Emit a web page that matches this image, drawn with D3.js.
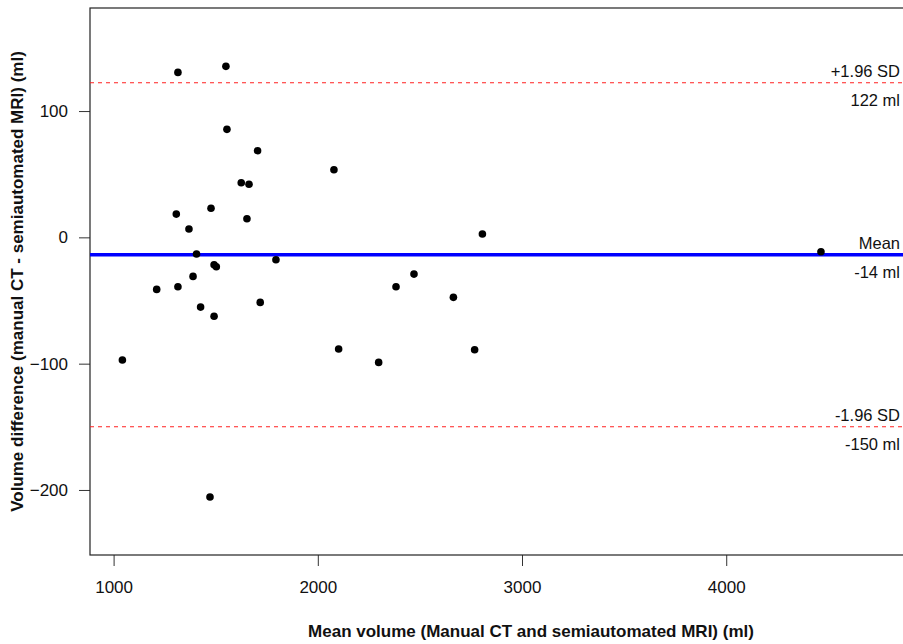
<!DOCTYPE html>
<html>
<head>
<meta charset="utf-8">
<script src="https://cdn.jsdelivr.net/npm/d3@7"></script>
<style>
  body { margin: 0; background: #fff; }
  svg { display: block; font-family: "Liberation Sans", Arial, Helvetica, sans-serif; }
</style>
</head>
<body>
<svg id="chart" width="903" height="644"></svg>
<script>
// mean volume (ml) and difference (ml) for each case
let meanVolume = [1315, 1550, 1555, 1705, 1625, 1663, 2079, 1477, 1307, 1653, 1369, 2806,
  1406, 1492, 1503, 1795, 1389, 1211, 1315, 1426, 1492, 1718, 1043, 2471, 2383, 2664,
  2102, 2298, 2768, 4464, 1472];
let volumeDiff = [130.6, 135.4, 85.5, 68.6, 43.2, 42.0, 53.5, 23.0, 18.4, 14.7, 6.6, 2.6,
  -13.2, -21.7, -23.3, -17.7, -30.9, -41.2, -39.1, -55.2, -62.5, -51.5, -97.1, -29.1, -39.1, -47.5,
  -88.4, -99.0, -89.0, -11.4, -205.6];

// Bland-Altman lines
let meanDiff = -13.8;
let limits = [122.4, -150.0];
let lineLabels = [
  { value: limits[0], above: "+1.96 SD", below: "122 ml" },
  { value: meanDiff, above: "Mean", below: "-14 ml" },
  { value: limits[1], above: "-1.96 SD", below: "-150 ml" }
];

let xTicks = [1000, 2000, 3000, 4000];
let yTicks = [-200, -100, 0, 100];

let svg = d3.select("#chart");
let plotLeft = 90, plotRight = 972, plotTop = 8, plotBottom = 555;

let x = d3.scaleLinear().domain([884.4, 5203.6]).range([plotLeft, plotRight]);
let y = d3.scaleLinear().domain([-251.5, 181.6]).range([plotBottom, plotTop]);

// axes
let xAxis = svg.append("g")
  .attr("transform", "translate(0," + plotBottom + ")")
  .call(d3.axisBottom(x).tickValues(xTicks).tickSize(11).tickPadding(15).tickFormat(d3.format("d")));
xAxis.select(".domain").remove();

let yAxis = svg.append("g")
  .attr("transform", "translate(" + plotLeft + ",0)")
  .call(d3.axisLeft(y).tickValues(yTicks).tickSize(11).tickPadding(11));
yAxis.select(".domain").remove();

svg.selectAll(".tick line").attr("stroke", "#333");
svg.selectAll(".tick text")
  .attr("font-size", 17)
  .attr("fill", "#111")
  .attr("font-family", "'Liberation Sans', Arial, sans-serif");

// frame
svg.append("rect")
  .attr("x", plotLeft).attr("y", plotTop)
  .attr("width", plotRight - plotLeft).attr("height", plotBottom - plotTop)
  .attr("fill", "none").attr("stroke", "#222").attr("stroke-width", 1.2);

// limits of agreement (dashed red)
svg.selectAll(".loa")
  .data(limits)
  .join("line")
  .attr("class", "loa")
  .attr("x1", plotLeft).attr("x2", plotRight)
  .attr("y1", d => y(d)).attr("y2", d => y(d))
  .attr("stroke", "#ff2020")
  .attr("stroke-width", 1.1)
  .attr("stroke-dasharray", "4,4");

// mean difference (blue)
svg.append("line")
  .attr("x1", plotLeft).attr("x2", plotRight)
  .attr("y1", y(meanDiff)).attr("y2", y(meanDiff))
  .attr("stroke", "#0000ff")
  .attr("stroke-width", 3.5);

// points
svg.selectAll(".pt")
  .data(meanVolume)
  .join("circle")
  .attr("class", "pt")
  .attr("cx", d => x(d))
  .attr("cy", (d, i) => y(volumeDiff[i]))
  .attr("r", 3.8)
  .attr("fill", "#000");

// line labels
let labelX = 900;
lineLabels.forEach(function (l) {
  svg.append("text")
    .attr("x", labelX).attr("y", y(l.value) - 6)
    .attr("text-anchor", "end")
    .attr("font-size", 16.5)
    .attr("fill", "#111")
    .text(l.above);
  svg.append("text")
    .attr("x", labelX).attr("y", y(l.value) + 23)
    .attr("text-anchor", "end")
    .attr("font-size", 16.5)
    .attr("fill", "#111")
    .text(l.below);
});

// axis titles
svg.append("text")
  .attr("x", (plotLeft + plotRight) / 2).attr("y", 637)
  .attr("text-anchor", "middle")
  .attr("font-size", 17)
  .attr("font-weight", "bold")
  .attr("fill", "#111")
  .text("Mean volume (Manual CT and semiautomated MRI) (ml)");

svg.append("text")
  .attr("transform", "translate(23," + (plotTop + plotBottom) / 2 + ") rotate(-90)")
  .attr("text-anchor", "middle")
  .attr("font-size", 17)
  .attr("font-weight", "bold")
  .attr("fill", "#111")
  .text("Volume difference (manual CT - semiautomated MRI) (ml)");
</script>
</body>
</html>
